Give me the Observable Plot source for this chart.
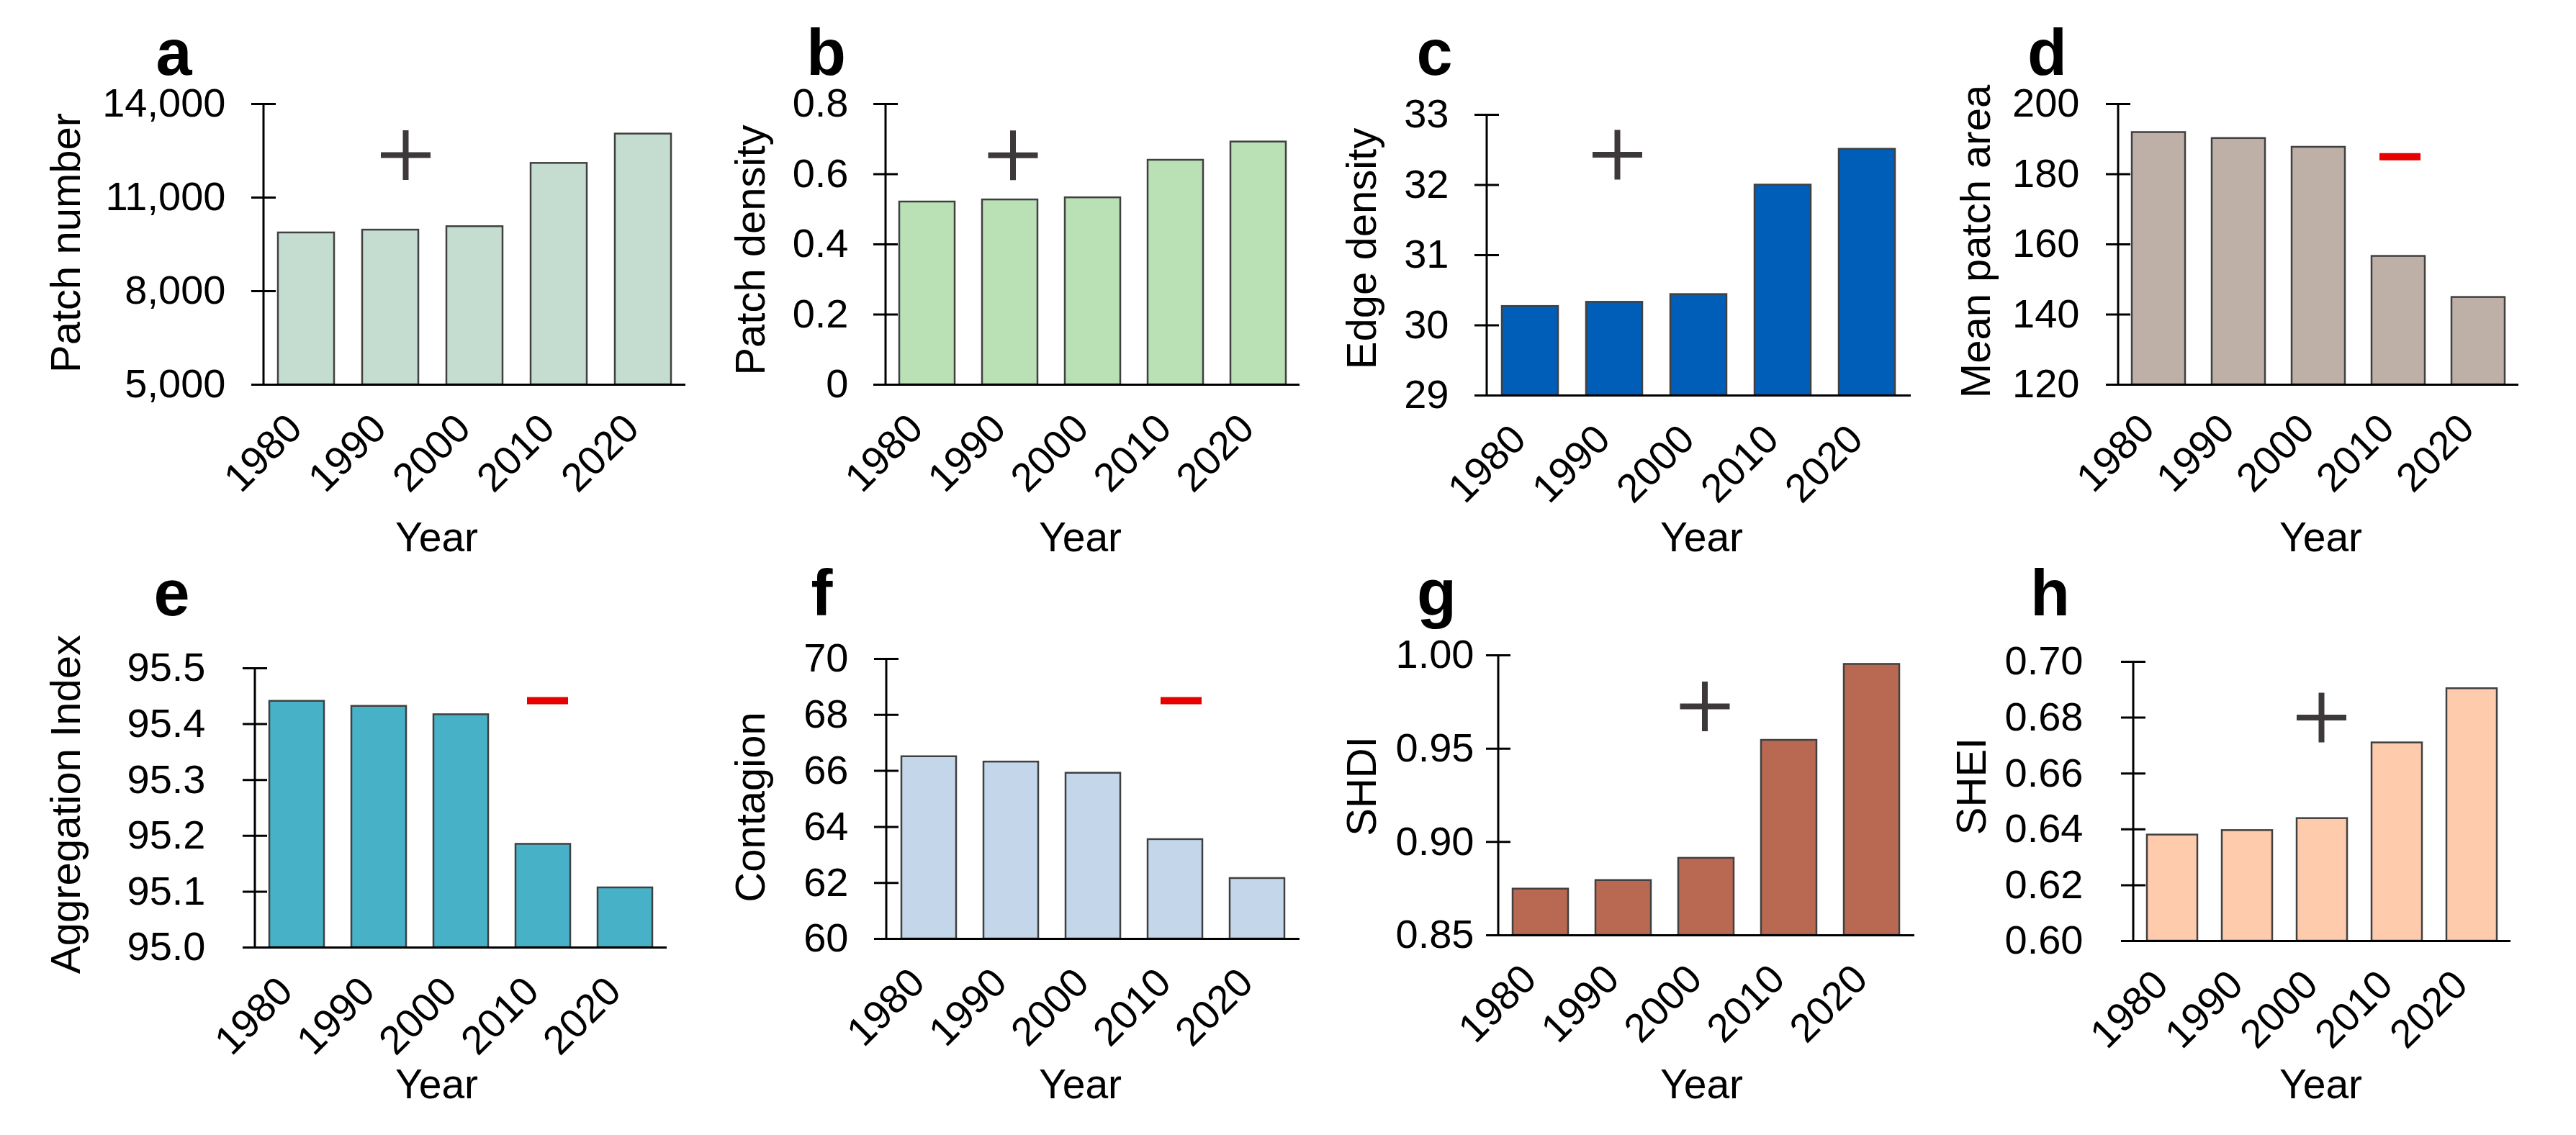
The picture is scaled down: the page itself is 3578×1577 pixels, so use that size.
<!DOCTYPE html>
<html><head><meta charset="utf-8">
<script src="https://cdn.jsdelivr.net/npm/d3@7"></script>
<script src="https://cdn.jsdelivr.net/npm/@observablehq/plot@0.6"></script>
<style>
html,body{margin:0;padding:0;background:#fff;}
#root{position:relative;width:3578px;height:1577px;overflow:hidden;background:#fff;}
#root svg{position:absolute;overflow:visible;}
</style></head><body><div id="root"></div>
<script>
// ---------- data ----------
const years = ["1980", "1990", "2000", "2010", "2020"];
const patchNumber = [9870, 9960, 10070, 12100, 13040];
const patchDensity = [0.521, 0.527, 0.533, 0.640, 0.692];
const edgeDensity = [30.27, 30.33, 30.44, 32.00, 32.51];
const meanPatchArea = [191.9, 190.2, 187.7, 156.6, 144.9];
const aggregationIndex = [95.441, 95.432, 95.417, 95.185, 95.107];
const contagion = [66.51, 66.32, 65.92, 63.55, 62.16];
const shdi = [0.8748, 0.8794, 0.8913, 0.9545, 0.9952];
const shei = [0.6380, 0.6396, 0.6439, 0.6710, 0.6904];

const panelLetters = ["a", "b", "c", "d", "e", "f", "g", "h"];
const yLabels = ["Patch number", "Patch density", "Edge density", "Mean patch area",
                 "Aggregation Index", "Contagion", "SHDI", "SHEI"];
const xLabel = "Year";

const ticksA = [5000, 8000, 11000, 14000];
const tickLabelsA = ["5,000", "8,000", "11,000", "14,000"];
const ticksB = [0, 0.2, 0.4, 0.6, 0.8];
const tickLabelsB = ["0", "0.2", "0.4", "0.6", "0.8"];
const ticksC = [29, 30, 31, 32, 33];
const tickLabelsC = ["29", "30", "31", "32", "33"];
const ticksD = [120, 140, 160, 180, 200];
const tickLabelsD = ["120", "140", "160", "180", "200"];
const ticksE = [95.0, 95.1, 95.2, 95.3, 95.4, 95.5];
const tickLabelsE = ["95.0", "95.1", "95.2", "95.3", "95.4", "95.5"];
const ticksF = [60, 62, 64, 66, 68, 70];
const tickLabelsF = ["60", "62", "64", "66", "68", "70"];
const ticksG = [0.85, 0.90, 0.95, 1.00];
const tickLabelsG = ["0.85", "0.90", "0.95", "1.00"];
const ticksH = [0.60, 0.62, 0.64, 0.66, 0.68, 0.70];
const tickLabelsH = ["0.60", "0.62", "0.64", "0.66", "0.68", "0.70"];

// trend sign annotations (+ increase, − decrease)
const signs = ["+", "+", "+", "−", "−", "−", "+", "+"];
const signYears = ["1990", "1990", "1990", "2010", "2010", "2010", "2000", "2000"];
const signValues = [12360, 0.654, 32.43, 185.0, 95.442, 68.51, 0.9726, 0.680];

// ---------- assembly ----------
const series = [patchNumber, patchDensity, edgeDensity, meanPatchArea, aggregationIndex, contagion, shdi, shei];
const ticks = [ticksA, ticksB, ticksC, ticksD, ticksE, ticksF, ticksG, ticksH];
const tickLabels = [tickLabelsA, tickLabelsB, tickLabelsC, tickLabelsD, tickLabelsE, tickLabelsF, tickLabelsG, tickLabelsH];

// ---------- layout & style ----------
const fills = ["#c5ddd0", "#b9e1b5", "#005eb8", "#beb0a6", "#47b2c7", "#c4d7ea", "#b96951", "#fecbac"];
const boxes = [[0,0,960,790],[960,0,880,790],[1840,0,840,790],[2680,0,898,790],
               [0,790,940,787],[940,790,900,787],[1840,790,840,787],[2680,790,898,787]];
const frames = [[366,952,144,534],[1230,1805,144,534],[2065,2654,159,549],[2942,3498,144,534],
                [354,926,928,1316],[1231,1805,915,1304],[2081,2659,910,1299],[2963,3487,919,1307]];
const tickGap = [53, 52, 53, 54, 69, 53, 34, 70];
const yLabelPos = [[95,337],[1046,347],[1895,345],[2748,335],[95,1117],[1046,1121],[1895,1092],[2742,1092]];
const yLabelShift = -26; // rotated-text rendering correction
const letterPos = [[241,103],[1147,103],[1992,103],[2843,103],[238,854],[1141,854],[1995,854],[2847,854]];
const yearPos = [[606,765],[1500,765],[2363,765],[3223,765],[606,1525],[1500,1525],[2363,1525],[3223,1525]];
const signDx = [21, 4, 4, 2, 6, 8, -2, -1];

const FONT = '"Liberation Sans", Arial, Helvetica, sans-serif';
const TICK_FS = 56, LABEL_FS = 58, YEAR_FS = 57, LETTER_FS = 90;

const plusSymbol = {draw(ctx, size) { const r = Math.sqrt(size / Math.PI);
  ctx.moveTo(-r, 0); ctx.lineTo(r, 0); ctx.moveTo(0, -r); ctx.lineTo(0, r); }};
const minusSymbol = {draw(ctx, size) { const r = Math.sqrt(size / Math.PI);
  ctx.moveTo(-r, 0); ctx.lineTo(r, 0); }};

const root = document.getElementById("root");

for (let i = 0; i < 8; i++) {
  const [bl, bt, bw, bh] = boxes[i];
  const [x0, x1, yT, yB] = frames[i];
  const frameW = x1 - x0;
  const tk = ticks[i];
  const dom = [tk[0], tk[tk.length - 1]];
  const data = years.map((y, j) => ({year: y, value: series[i][j]}));
  const isPlus = signs[i] === "+";
  const [lx, ly] = yLabelPos[i];
  const [ax, ab] = letterPos[i];
  const [yx, yb] = yearPos[i];

  const svg = Plot.plot({
    width: bw, height: bh,
    marginLeft: x0 - bl, marginRight: bl + bw - x1,
    marginTop: yT - bt, marginBottom: bt + bh - yB,
    style: {background: "transparent", overflow: "visible", fontFamily: FONT, color: "#000"},
    x: {type: "band", domain: years, paddingInner: 0.33, paddingOuter: 0.165, axis: null},
    y: {domain: dom, axis: null},
    marks: [
      Plot.barY(data, {x: "year", y1: dom[0], y2: "value", fill: fills[i], stroke: "#404040", strokeWidth: 2.5}),
      Plot.ruleY([dom[0]], {insetLeft: -17, stroke: "#000", strokeWidth: 3}),
      Plot.rect([0], {y1: dom[0], y2: dom[1], insetLeft: -1.5, insetRight: frameW - 1.5, fill: "#000"}),
      Plot.tickY(tk, {y: d => d, insetLeft: -17, insetRight: frameW - 17, stroke: "#000", strokeWidth: 3}),
      Plot.text(tk, {y: d => d, text: (d, k) => tickLabels[i][k], frameAnchor: "left", textAnchor: "end",
                     dx: -tickGap[i], fontSize: TICK_FS, fill: "#000"}),
      Plot.text(years, {x: d => d, text: d => d, frameAnchor: "bottom", rotate: -45, textAnchor: "end",
                        dx: -3, dy: 64, fontSize: TICK_FS, fill: "#000"}),
      Plot.text([yLabels[i]], {text: d => d, frameAnchor: "top-left", rotate: -90, textAnchor: "middle",
                               dx: lx - x0 + yLabelShift, dy: ly - yT, fontSize: LABEL_FS, fill: "#000"}),
      Plot.text([xLabel], {text: d => d, frameAnchor: "top-left", textAnchor: "middle", lineAnchor: "bottom",
                           dx: yx - x0, dy: yb - yT, fontSize: YEAR_FS, fill: "#000"}),
      Plot.text([panelLetters[i]], {text: d => d, frameAnchor: "top-left", textAnchor: "middle", lineAnchor: "bottom",
                                    dx: ax - x0, dy: ab - yT, fontSize: LETTER_FS,
                                    fontWeight: "bold", fill: "#000"}),
      Plot.dot([signValues[i]], {x: () => signYears[i], y: d => d, dx: signDx[i],
                                 symbol: isPlus ? plusSymbol : minusSymbol, r: isPlus ? 34.5 : 28.5,
                                 fill: "none", stroke: isPlus ? "#3d393a" : "#e60000",
                                 strokeWidth: isPlus ? 8 : 10})
    ]
  });
  svg.style.left = bl + "px";
  svg.style.top = bt + "px";
  svg.style.maxWidth = "none";
  root.appendChild(svg);
}
</script>
</body></html>
